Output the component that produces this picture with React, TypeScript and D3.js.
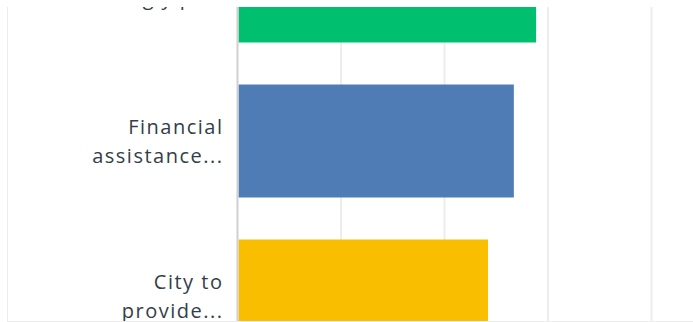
import React from "react";
import * as d3 from "d3";

const categories = ["green", "blue", "yellow"];
const labels: string[][] = [
  ["Regulations that", "strongly pr..."],
  ["Financial", "assistance..."],
  ["City to", "provide..."],
];
const values = [57.7, 53.4, 48.4];
const colors = ["#00bf6f", "#507cb6", "#f9be00"];
const ticks = [0, 20, 40, 60, 80, 100];

export default function App() {
  const W = 693;
  const H = 322;
  const x = d3.scaleLinear().domain([0, 100]).range([237.5, 755]);
  const y = d3
    .scaleBand<string>()
    .domain(categories)
    .range([-91.5, -91.5 + 3 * 155])
    .paddingInner(0.271)
    .paddingOuter(0.1355);
  const bw = y.bandwidth();
  const lineH = 29;
  return (
    <div style={{ position: "fixed", left: 0, top: 0, width: W, height: H, background: "#fff" }}>
      <svg width={W} height={H} style={{ display: "block" }}>
        <defs>
          <clipPath id="clip">
            <rect x={7} y={7} width={W} height={314} />
          </clipPath>
        </defs>
        <g clipPath="url(#clip)">
          {ticks.slice(1).map((t) => (
            <line key={t} x1={x(t)} x2={x(t)} y1={0} y2={H} stroke="#ededed" strokeWidth={2} />
          ))}
          {categories.map((c, i) => (
            <rect
              key={c}
              x={x(0) + 1}
              y={y(c)!}
              width={x(values[i]) - x(0) - 1}
              height={bw}
              fill={colors[i]}
            />
          ))}
          <line x1={x(0)} x2={x(0)} y1={0} y2={H} stroke="#d0d0d0" strokeWidth={2} />
          {categories.map((c, i) => {
            const cy = y(c)! + bw / 2 - (i === 0 ? 3 : 0);
            const ls = labels[i];
            const start = cy - ((ls.length - 1) * lineH) / 2;
            return (
              <text
                key={c}
                textAnchor="end"
                fontFamily="'Open Sans', sans-serif"
                fontSize={20}
                letterSpacing={1.5}
                fill="#333e48"
              >
                {ls.map((l, j) => (
                  <tspan key={j} x={223.5} y={start + j * lineH} dy="0.35em">
                    {l}
                  </tspan>
                ))}
              </text>
            );
          })}
          <line x1={7} x2={7} y1={0} y2={H} stroke="#ededed" strokeWidth={2} />
        </g>
        <line x1={7} x2={W} y1={321.5} y2={321.5} stroke="#ededed" strokeWidth={1} />
      </svg>
    </div>
  );
}
